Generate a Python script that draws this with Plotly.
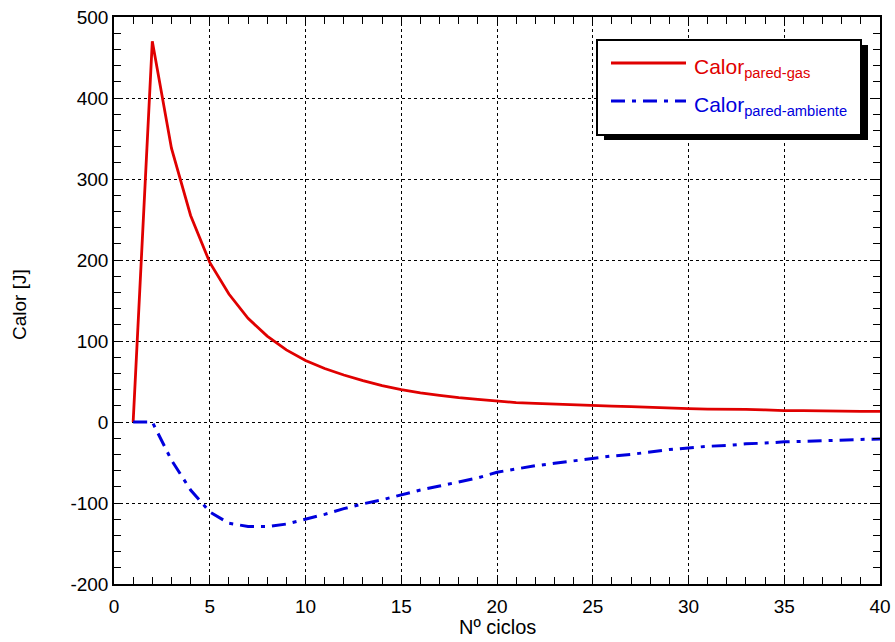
import plotly.graph_objects as go

# Data
ciclos = list(range(1, 41))
calor_pared_gas = [0, 470, 338, 255, 197, 158, 128, 106, 89, 76,
                   66, 58, 51, 45, 40, 36, 33, 30, 28, 26,
                   24, 23, 22, 21, 20, 19.5, 19, 18, 17, 16.5,
                   16, 16, 15.5, 15, 14, 14, 13.5, 13.5, 13, 13]
calor_pared_amb = [0, 0, -47, -84, -111, -125, -129, -129, -126, -120,
                   -114, -107, -101, -96, -90, -84, -79, -74, -69, -62,
                   -58, -54, -51, -48, -45, -42, -40, -37, -34, -32,
                   -30, -29, -27, -26, -24.5, -24, -23, -22, -21.5, -21]
legend_names = ["Calor<sub>pared-gas</sub>", "Calor<sub>pared-ambiente</sub>"]
x_title = "Nº ciclos"
y_title = "Calor [J]"
y_tickvals = [-200, -100, 0, 100, 200, 300, 400, 500]
y_ticktext = ["-200", "-100", "0", "100", "200", "300", "400", "500"]
colors = ["#e00000", "#0000dd"]

W, H = 895, 642
L, R, T, B = 114, 15, 17, 58
pw, ph = W - L - R, H - T - B

def px2paper(x, y):
    return (x - L) / pw, (H - B - y) / ph

fig = go.Figure()
fig.add_trace(go.Scatter(x=ciclos, y=calor_pared_gas, mode="lines",
                         line=dict(color=colors[0], width=2.8), showlegend=False))
fig.add_trace(go.Scatter(x=ciclos, y=calor_pared_amb, mode="lines",
                         line=dict(color=colors[1], width=3, dash="14px,7px,4px,7px"),
                         showlegend=False))

font = "Liberation Sans, Arial, sans-serif"
axis_common = dict(showline=True, linecolor="black", linewidth=1.5, mirror="ticks",
                   ticks="inside", ticklen=7, tickcolor="black", tickwidth=1,
                   showgrid=True, gridcolor="black", gridwidth=1, griddash="3px,3px",
                   zeroline=False, automargin=False,
                   tickfont=dict(family=font, size=19, color="black"))

fig.update_xaxes(range=[0, 40], dtick=5, tick0=0, ticklabelstandoff=4,
                 minor=dict(dtick=1, ticks="inside", ticklen=7, tickcolor="black", showgrid=False),
                 **axis_common)
fig.update_yaxes(range=[-200, 500], tickmode="array", tickvals=y_tickvals, ticktext=y_ticktext,
                 minor=dict(dtick=20, tick0=0, ticks="inside", ticklen=7, tickcolor="black",
                            showgrid=False),
                 **axis_common)

# Axis titles
tx, ty = px2paper(497, 627)
fig.add_annotation(xref="paper", yref="paper", x=tx, y=ty, xanchor="center", yanchor="middle",
                   text=x_title, showarrow=False, font=dict(family=font, size=20, color="black"))
tx, ty = px2paper(19, 305)
fig.add_annotation(xref="paper", yref="paper", x=tx, y=ty, xanchor="center", yanchor="middle",
                   text=y_title, textangle=-90, showarrow=False,
                   font=dict(family=font, size=19, color="black"))

# Legend box (manual) with shadow
x0, y0 = px2paper(597, 40)
x1, y1 = px2paper(861, 135)
sx0, sy0 = px2paper(604, 45)
sx1, sy1 = px2paper(868, 140)
fig.add_shape(type="rect", xref="paper", yref="paper", x0=sx0, y0=sy1, x1=sx1, y1=sy0,
              fillcolor="black", line=dict(color="black", width=0))
fig.add_shape(type="rect", xref="paper", yref="paper", x0=x0, y0=y1, x1=x1, y1=y0,
              fillcolor="white", line=dict(color="black", width=2))

for i, (yy, dash, wdt) in enumerate([(63, "solid", 2.8), (101, "14px,7px,4px,7px", 3)]):
    lx0, ly = px2paper(611, yy)
    lx1, _ = px2paper(686, yy)
    fig.add_shape(type="line", xref="paper", yref="paper", x0=lx0, x1=lx1, y0=ly, y1=ly,
                  line=dict(color=colors[i], width=wdt, dash=dash))
    tx, ty = px2paper(692, yy + 5)
    fig.add_annotation(xref="paper", yref="paper", x=tx, y=ty, xanchor="left", yanchor="middle",
                       text=f'<span style="color:{colors[i]}">{legend_names[i]}</span>',
                       showarrow=False, font=dict(family=font, size=21, color=colors[i]))

fig.update_layout(width=W, height=H, margin=dict(l=L, r=R, t=T, b=B, autoexpand=False),
                  paper_bgcolor="white", plot_bgcolor="white", showlegend=False)

fig.write_html("out.html")
